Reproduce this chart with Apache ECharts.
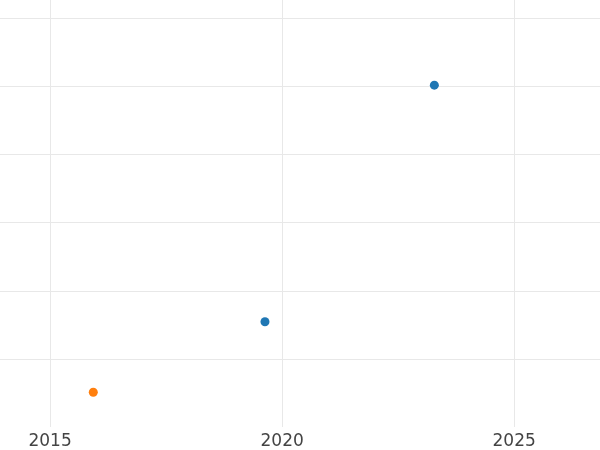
<!DOCTYPE html>
<html><head><meta charset="utf-8">
<script src="https://cdn.jsdelivr.net/npm/echarts@6/dist/echarts.min.js"></script>
<style>html,body{margin:0;padding:0;background:#fff}#c{width:600px;height:450px}</style>
</head><body><div id="c"></div>
<script>
const seriesA = [[2023.28, 5.02], [2019.63, 1.545]];
const seriesB = [[2015.93, 0.51]];
const xTicks = [2015, 2020, 2025];

const chart = echarts.init(document.getElementById('c'), null, {renderer: 'canvas'});
chart.setOption({
  animation: false,
  backgroundColor: '#ffffff',
  grid: {left: 0, right: 0, top: 0, bottom: 23, containLabel: false},
  xAxis: {
    type: 'value', min: 2013.92, max: 2026.85,
    axisLine: {show: false},
    axisTick: {show: false, customValues: xTicks},
    axisLabel: {
      fontFamily: 'DejaVu Sans', fontSize: 17, color: '#444444', margin: 6,
      customValues: xTicks, formatter: v => String(v)
    },
    splitLine: {show: true, showMinLine: true, showMaxLine: true, lineStyle: {color: '#e8e8e8', width: 1}}
  },
  yAxis: {
    type: 'value', min: 0, max: 6.27, interval: 1,
    axisLine: {show: false}, axisTick: {show: false}, axisLabel: {show: false},
    splitLine: {show: true, showMinLine: false, showMaxLine: false, lineStyle: {color: '#e8e8e8', width: 1}}
  },
  series: [
    {type: 'scatter', data: seriesA, symbolSize: 9, itemStyle: {color: '#1f77b4', opacity: 1}},
    {type: 'scatter', data: seriesB, symbolSize: 9, itemStyle: {color: '#ff7f0e', opacity: 1}}
  ]
});
</script></body></html>
